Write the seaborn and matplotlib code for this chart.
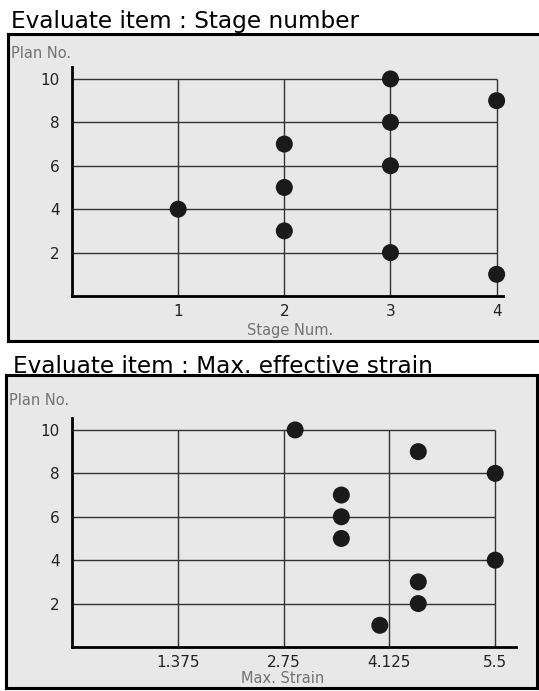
import matplotlib
matplotlib.use("Agg")
import matplotlib.pyplot as plt
import seaborn as sns
import pandas as pd

# ---- data ----
stage_num = [1, 2, 2, 2, 3, 3, 3, 3, 4, 4]
stage_plan = [4, 3, 5, 7, 2, 6, 8, 10, 1, 9]
stage_ticks = [1, 2, 3, 4]
stage_ticklabels = ["1", "2", "3", "4"]

strain_val = [2.9, 3.5, 3.5, 3.5, 4.5, 4.5, 4.5, 4.0, 5.5, 5.5]
strain_plan = [10, 7, 6, 5, 9, 3, 2, 1, 8, 4]
strain_ticks = [1.375, 2.75, 4.125, 5.5]
strain_ticklabels = ["1.375", "2.75", "4.125", "5.5"]

plan_ticks = [2, 4, 6, 8, 10]
plan_ticklabels = ["2", "4", "6", "8", "10"]

title_top = "Evaluate item : Stage number"
title_bot = "Evaluate item : Max. effective strain"
xlabel_top = "Stage Num."
xlabel_bot = "Max. Strain"
ylabel = "Plan No."

sns.set_style("white")
plt.rcParams["font.family"] = ["DejaVu Sans"]

W, H = 539, 691
fig = plt.figure(figsize=(W / 100, H / 100), dpi=100)
fig.patch.set_facecolor("white")


def box(l, t, r, b):
    return [l / W, 1 - b / H, (r - l) / W, (b - t) / H]


def panel(l, t, r, b):
    bg = fig.add_axes(box(l, t, r, b), zorder=0)
    bg.set_facecolor("#e8e8e8")
    for s in bg.spines.values():
        s.set_color("black")
        s.set_linewidth(2.2)
    bg.set_xticks([])
    bg.set_yticks([])
    return bg


def plot(rect, x, y, xticks, xticklabels, xmax):
    ax = fig.add_axes(rect, zorder=1)
    ax.set_facecolor("none")
    df = pd.DataFrame({"x": x, "y": y})
    ax.hlines(plan_ticks, 0, xticks[-1], color="#333333", lw=1.0, zorder=1)
    ax.vlines(xticks, 0, plan_ticks[-1], color="#333333", lw=1.0, zorder=1)
    sns.scatterplot(data=df, x="x", y="y", ax=ax, s=150, color="#1a1a1a",
                    edgecolor="none", zorder=3, clip_on=False)
    ax.set_xlim(0, xmax)
    ax.set_ylim(0, 10.55)
    ax.set_xticks(xticks)
    ax.set_xticklabels(xticklabels)
    ax.set_yticks(plan_ticks)
    ax.set_yticklabels(plan_ticklabels)
    ax.tick_params(axis="x", length=0, pad=6, labelsize=11, labelcolor="#222222")
    ax.tick_params(axis="y", length=0, pad=9, labelsize=11, labelcolor="#222222")
    ax.set_xlabel("")
    ax.set_ylabel("")
    for side in ["top", "right"]:
        ax.spines[side].set_visible(False)
    for side in ["left", "bottom"]:
        ax.spines[side].set_color("black")
        ax.spines[side].set_linewidth(2.0)
    return ax


# top panel
panel(8, 34, 548, 341)
plot(box(72, 67, 503, 296), stage_num, stage_plan, stage_ticks, stage_ticklabels, 4.06)
fig.text(11 / W, 1 - 28 / H, title_top, fontsize=16.7, family="DejaVu Sans",
         va="baseline", ha="left", color="black")
fig.text(11 / W, 1 - 58 / H, ylabel, fontsize=10.5, color="#727272", va="baseline")
fig.text(290 / W, 1 - 335 / H, xlabel_top, fontsize=10.5, color="#727272",
         va="baseline", ha="center")

# bottom panel
panel(6, 375, 537, 688)
plot(box(72, 418, 516, 647), strain_val, strain_plan, strain_ticks, strain_ticklabels, 5.77)
fig.text(13 / W, 1 - 373 / H, title_bot, fontsize=16.7, family="DejaVu Sans",
         va="baseline", ha="left", color="black")
fig.text(9 / W, 1 - 405 / H, ylabel, fontsize=10.5, color="#727272", va="baseline")
fig.text(283 / W, 1 - 683 / H, xlabel_bot, fontsize=10.5, color="#727272",
         va="baseline", ha="center")

fig.savefig("out.png", dpi=100)
